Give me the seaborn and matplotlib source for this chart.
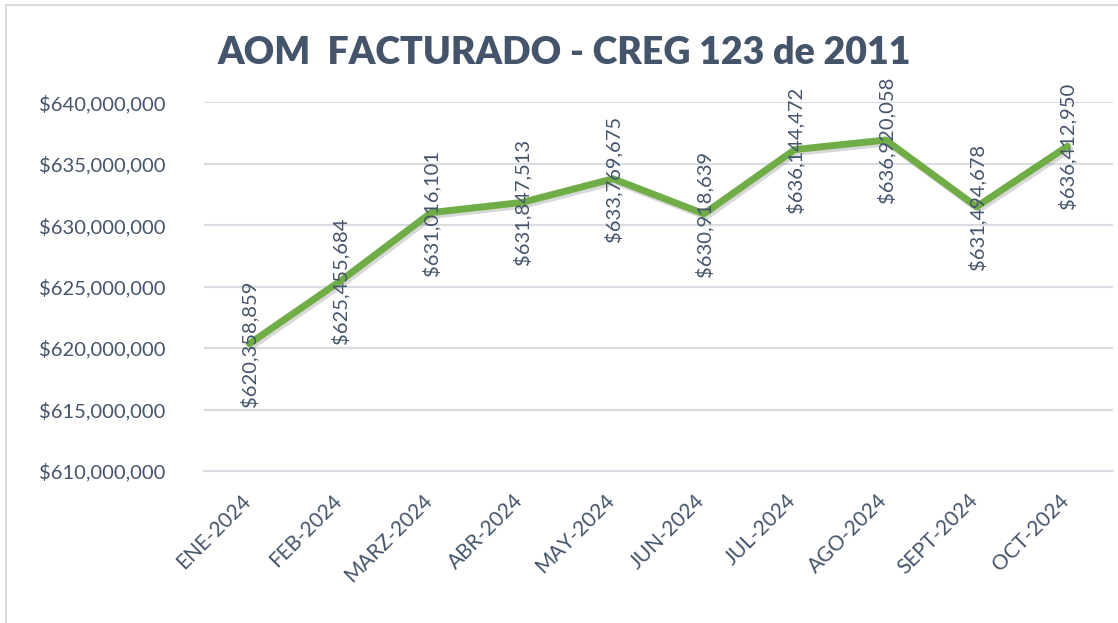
import matplotlib
matplotlib.use("Agg")
import matplotlib.pyplot as plt
import matplotlib.patheffects as pe
from matplotlib.ticker import FuncFormatter, MultipleLocator, FixedLocator
import seaborn as sns
import pandas as pd

# Data
months = ['ENE-2024', 'FEB-2024', 'MARZ-2024', 'ABR-2024', 'MAY-2024',
          'JUN-2024', 'JUL-2024', 'AGO-2024', 'SEPT-2024', 'OCT-2024']
aom = [620358859, 625455684, 631016101, 631847513, 633769675,
       630918639, 636144472, 636920058, 631494678, 636412950]

df = pd.DataFrame({'Mes': months, 'AOM': aom})

text_color = '#44546A'
grid_color = '#D9DDE3'
line_color = '#70AD47'

sns.set_theme(style='white')
plt.rcParams['font.family'] = ['Lato', 'DejaVu Sans']

fig = plt.figure(figsize=(11.18, 6.23), dpi=100)
ax = fig.add_axes([0.1825, 0.244, 0.813, 0.592])

x_pos = list(range(len(months)))
sns.lineplot(x=x_pos, y=df['AOM'], ax=ax, color=line_color, linewidth=5,
             sort=False,
             path_effects=[pe.SimpleLineShadow(offset=(1.5, -2), alpha=0.2, shadow_color='#404040'),
                           pe.Normal()])

# data labels, rotated, centred on each point
for i, v in enumerate(aom):
    ax.text(i, v, f'${v:,.0f}', rotation=90, ha='center', va='center',
            fontsize=14.5, color=text_color, rotation_mode='anchor')

ax.set_ylim(610000000, 640000000)
ax.set_xlim(-0.5, len(months) - 0.5)
ax.yaxis.set_major_locator(MultipleLocator(5000000))
ax.yaxis.set_major_formatter(FuncFormatter(lambda v, p: f'${v:,.0f}'))
ax.yaxis.grid(True, color=grid_color, linewidth=1.5)
ax.set_axisbelow(True)

ax.set_xticks([x - 0.1 for x in x_pos])
ax.set_xticklabels(months, rotation=45, ha='right', va='top',
                   rotation_mode='anchor', fontsize=15, color=text_color)
ax.tick_params(axis='x', which='major', length=0, pad=14)
# tick marks between categories
ax.xaxis.set_minor_locator(FixedLocator([i - 0.5 for i in range(len(months) + 1)]))
ax.tick_params(axis='x', which='minor', length=6, width=1.5, color=grid_color, direction='out')
ax.tick_params(axis='y', length=0, labelsize=14.5, labelcolor=text_color, pad=28)

for side in ['top', 'right', 'left']:
    ax.spines[side].set_visible(False)
ax.spines['bottom'].set_color(grid_color)
ax.spines['bottom'].set_linewidth(1.5)
ax.set_xlabel('')
ax.set_ylabel('')

fig.text(0.505, 0.915, 'AOM  FACTURADO - CREG 123 de 2011', ha='center', va='center',
         fontsize=27, fontweight='heavy', color=text_color)

# chart border
border = plt.Rectangle((0.0055, -0.05), 1.2, 1.042, transform=fig.transFigure,
                       fill=False, edgecolor='#D9D9D9', linewidth=1.5)
fig.patches.append(border)

fig.savefig('out.png', dpi=100)
